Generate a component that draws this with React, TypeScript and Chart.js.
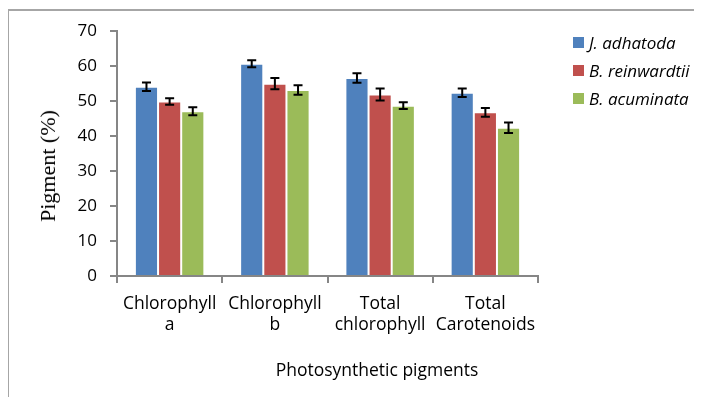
import React, { useEffect, useRef } from "react";
import { Chart, registerables } from "chart.js";

Chart.register(...registerables);

const categories: string[][] = [
  ["Chlorophyll", "a"],
  ["Chlorophyll", "b"],
  ["Total", "chlorophyll"],
  ["Total", "Carotenoids"],
];
const seriesNames = ["J. adhatoda", "B. reinwardtii", "B. acuminata"];
const seriesColors = ["#4F81BD", "#C0504D", "#9BBB59"];
const jAdhatoda = [54.1, 60.7, 56.6, 52.4];
const bReinwardtii = [49.9, 55.0, 51.9, 46.8];
const bAcuminata = [47.1, 53.2, 48.7, 42.4];
const jAdhatodaErr = [1.2, 1.0, 1.35, 1.25];
const bReinwardtiiErr = [0.9, 1.6, 1.7, 1.25];
const bAcuminataErr = [1.15, 1.35, 0.95, 1.5];
const yTicks = [0, 10, 20, 30, 40, 50, 60, 70];
const xTitle = "Photosynthetic pigments";
const yTitle = "Pigment (%)";

const values = [jAdhatoda, bReinwardtii, bAcuminata];
const errors = [jAdhatodaErr, bReinwardtiiErr, bAcuminataErr];

const errorBarPlugin = {
  id: "errorBars",
  afterDatasetsDraw(chart: any) {
    const ctx = chart.ctx;
    const yScale = chart.scales.y;
    ctx.save();
    ctx.strokeStyle = "#000";
    ctx.lineWidth = 2;
    chart.data.datasets.forEach((ds: any, i: number) => {
      const meta = chart.getDatasetMeta(i);
      meta.data.forEach((bar: any, j: number) => {
        const v = ds.data[j];
        const e = ds.errors[j];
        const x = bar.x;
        const yt = yScale.getPixelForValue(v + e);
        const yb = yScale.getPixelForValue(v - e);
        const cap = 4.5;
        ctx.beginPath();
        ctx.moveTo(x, yt);
        ctx.lineTo(x, yb);
        ctx.moveTo(x - cap, yt);
        ctx.lineTo(x + cap, yt);
        ctx.moveTo(x - cap, yb);
        ctx.lineTo(x + cap, yb);
        ctx.stroke();
      });
    });
    ctx.restore();
  },
};

export default function App() {
  const ref = useRef<HTMLCanvasElement | null>(null);

  useEffect(() => {
    if (!ref.current) return;
    const axisColor = "#868686";
    const chart = new Chart(ref.current, {
      type: "bar",
      data: {
        labels: categories,
        datasets: seriesNames.map((name, i) => ({
          label: name,
          data: values[i],
          errors: errors[i],
          backgroundColor: seriesColors[i],
          borderColor: "rgba(255,255,255,0.45)",
          borderWidth: 1,
          categoryPercentage: 0.66,
          barPercentage: 1.0,
        })) as any,
      },
      options: {
        animation: false,
        responsive: false,
        devicePixelRatio: 1,
        layout: { padding: { left: 0, right: 164, top: 23, bottom: 0 } },
        plugins: {
          legend: { display: false },
          tooltip: { enabled: false },
        },
        scales: {
          x: {
            grid: {
              drawOnChartArea: false,
              drawTicks: true,
              tickLength: 7,
              color: axisColor,
              lineWidth: 2,
              offset: true,
            },
            border: { color: axisColor, width: 2 },
            ticks: {
              color: "#000",
              padding: 10,
              maxRotation: 0,
              autoSkip: false,
              font: { family: "'Open Sans'", size: 17.5, lineHeight: 1.22 },
            },
            afterFit(scale: any) {
              scale.height = 121;
            },
          },
          y: {
            min: 0,
            max: 70,
            afterBuildTicks(scale: any) {
              scale.ticks = yTicks.map((v) => ({ value: v }));
            },
            grid: {
              drawOnChartArea: false,
              drawTicks: true,
              tickLength: 7,
              color: axisColor,
              lineWidth: 2,
            },
            border: { color: axisColor, width: 2 },
            ticks: {
              color: "#000",
              padding: 13,
              font: { family: "'Open Sans'", size: 17 },
            },
            afterFit(scale: any) {
              scale.width = 109;
            },
          },
        },
      },
      plugins: [errorBarPlugin],
    } as any);
    return () => chart.destroy();
  }, []);

  return (
    <div style={{ position: "relative", width: 694, height: 389, overflow: "hidden" }}>
      <div
        style={{
          position: "absolute",
          left: -1,
          top: 1,
          right: -10,
          bottom: -10,
          borderLeft: "2px solid #a6a6a6",
          borderTop: "2px solid #a6a6a6",
        }}
      />
      <canvas
        ref={ref}
        width={694}
        height={389}
        style={{ position: "absolute", left: 0, top: 0, width: 694, height: 389 }}
      />
      <div
        style={{
          position: "absolute",
          left: 40,
          top: 158,
          transform: "translate(-50%, -50%) rotate(-90deg)",
          fontFamily: "'Liberation Serif', serif",
          fontSize: 22,
          whiteSpace: "nowrap",
          color: "#000",
        }}
      >
        {yTitle}
      </div>
      <div
        style={{
          position: "absolute",
          left: 369,
          top: 361,
          transform: "translate(-50%, -50%)",
          fontFamily: "'Open Sans', sans-serif",
          fontSize: 17.5,
          whiteSpace: "nowrap",
          color: "#000",
        }}
      >
        {xTitle}
      </div>
      <div style={{ position: "absolute", left: 565, top: 20 }}>
        {seriesNames.map((name, i) => (
          <div key={name} style={{ display: "flex", alignItems: "center", height: 28 }}>
            <div style={{ width: 11, height: 11, background: seriesColors[i], marginRight: 5 }} />
            <span
              style={{
                fontFamily: "'Open Sans', sans-serif",
                fontStyle: "italic",
                fontSize: 17,
                color: "#000",
                whiteSpace: "nowrap",
              }}
            >
              {name}
            </span>
          </div>
        ))}
      </div>
    </div>
  );
}
